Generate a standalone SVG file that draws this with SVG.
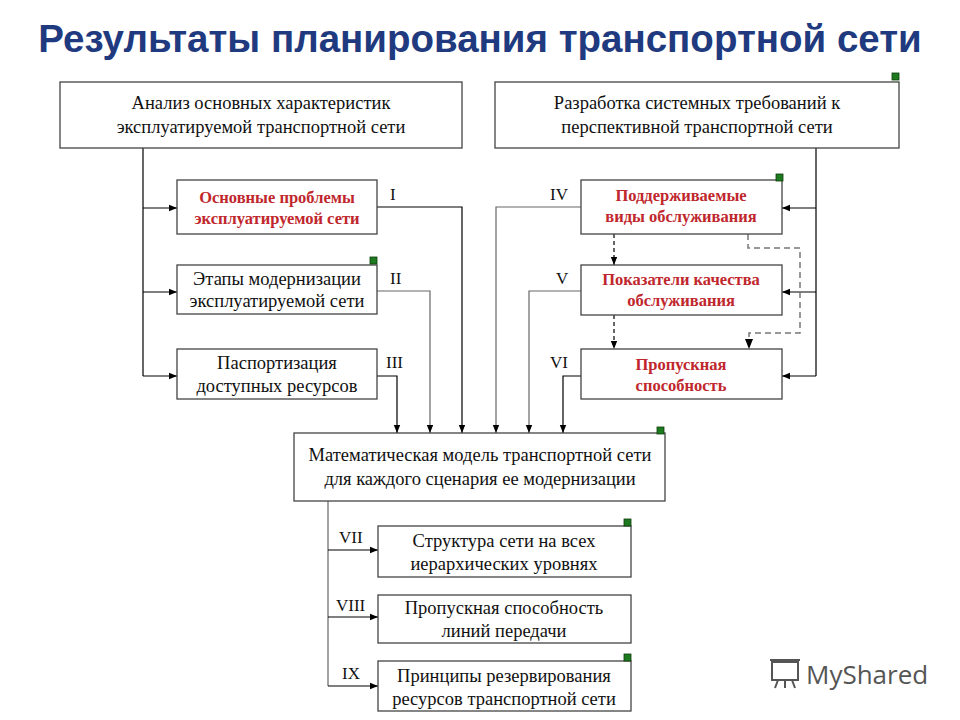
<svg xmlns="http://www.w3.org/2000/svg" width="960" height="720" viewBox="0 0 960 720">
<defs>
<marker id="ah" viewBox="0 0 10 10" refX="10" refY="5" markerWidth="7" markerHeight="7" orient="auto"><path d="M0,1 L10,5 L0,9 z" fill="#000"/></marker>
<style>
.b{fill:#fff;stroke:#444;stroke-width:1.3}
.t{font-family:"Liberation Serif",serif;font-size:18.5px;fill:#111;text-anchor:middle}
.r{font-family:"Liberation Serif",serif;font-size:16.5px;font-weight:bold;fill:#c0272d;text-anchor:middle}
.l{font-family:"Liberation Serif",serif;font-size:17px;fill:#111}
.c{fill:none;stroke:#000;stroke-width:1.2}
.g{fill:none;stroke:#666;stroke-width:1.2}
.d{fill:none;stroke:#000;stroke-width:1.2;stroke-dasharray:4,3}
.dg{fill:none;stroke:#777;stroke-width:1.5;stroke-dasharray:6,4}
.sq{fill:#1e7a1e;stroke:#0b3d0b;stroke-width:0.8}
</style>
</defs>
<rect width="960" height="720" fill="#fff"/>
<text x="480" y="52" font-family="Liberation Sans,sans-serif" font-size="38.5" font-weight="bold" fill="#1f3a7e" text-anchor="middle">Результаты планирования транспортной сети</text>
<g id="connectors">
<path class="c" d="M143,148 V376"/>
<path class="c" d="M143,208 H177" marker-end="url(#ah)"/>
<path class="c" d="M143,292 H177" marker-end="url(#ah)"/>
<path class="c" d="M143,376 H177" marker-end="url(#ah)"/>
<path class="c" d="M377,207 H462 V433" marker-end="url(#ah)"/>
<path class="g" d="M377,291 H430 V433" marker-end="url(#ah)"/>
<path class="c" d="M377,376 H397 V433" marker-end="url(#ah)"/>
<path class="c" d="M816,148 V376"/>
<path class="c" d="M816,208 H782" marker-end="url(#ah)"/>
<path class="c" d="M816,292 H782" marker-end="url(#ah)"/>
<path class="c" d="M816,376 H782" marker-end="url(#ah)"/>
<path class="g" d="M581,207 H496 V433" marker-end="url(#ah)"/>
<path class="g" d="M581,291 H529 V433" marker-end="url(#ah)"/>
<path class="c" d="M581,376 H563 V433" marker-end="url(#ah)"/>
<path class="d" d="M614,234 V265" marker-end="url(#ah)"/>
<path class="d" d="M614,315 V349" marker-end="url(#ah)"/>
<path class="dg" d="M748,234 V248 H800 V333 H749 V349" marker-end="url(#ah)"/>
<path class="g" d="M328,501 V686"/>
<path class="c" d="M328,550 H378" marker-end="url(#ah)"/>
<path class="c" d="M328,617 H378" marker-end="url(#ah)"/>
<path class="c" d="M328,686 H378" marker-end="url(#ah)"/>
</g>
<g id="nA"><rect class="b" x="60" y="82" width="402" height="66"/><text class="t" x="261" y="109">Анализ основных характеристик</text><text class="t" x="261" y="133">эксплуатируемой транспортной сети</text></g>
<g id="nB"><rect class="b" x="495" y="82" width="404" height="66"/><rect class="sq" x="892" y="73" width="7" height="7"/><text class="t" x="697" y="109">Разработка системных требований к</text><text class="t" x="697" y="133">перспективной транспортной сети</text></g>
<g id="n1"><rect class="b" x="177" y="180" width="200" height="54"/><text class="r" x="277" y="203">Основные проблемы</text><text class="r" x="277" y="224">эксплуатируемой сети</text><text class="l" x="390" y="200">I</text></g>
<g id="n2"><rect class="b" x="177" y="265" width="200" height="49"/><rect class="sq" x="370" y="257" width="7" height="7"/><text class="t" x="277" y="285">Этапы модернизации</text><text class="t" x="277" y="307">эксплуатируемой сети</text><text class="l" x="390" y="284">II</text></g>
<g id="n3"><rect class="b" x="177" y="349" width="200" height="50"/><text class="t" x="277" y="369">Паспортизация</text><text class="t" x="277" y="392">доступных ресурсов</text><text class="l" x="386" y="368">III</text></g>
<g id="n4"><rect class="b" x="581" y="180" width="201" height="54"/><rect class="sq" x="776" y="174" width="7" height="7"/><text class="r" x="681" y="201">Поддерживаемые</text><text class="r" x="681" y="222">виды обслуживания</text><text class="l" x="550" y="200">IV</text></g>
<g id="n5"><rect class="b" x="581" y="265" width="201" height="50"/><text class="r" x="681" y="285">Показатели качества</text><text class="r" x="681" y="306">обслуживания</text><text class="l" x="556" y="284">V</text></g>
<g id="n6"><rect class="b" x="581" y="349" width="201" height="50"/><text class="r" x="681" y="370">Пропускная</text><text class="r" x="681" y="391">способность</text><text class="l" x="550" y="368">VI</text></g>
<g id="nM"><rect class="b" x="294" y="433" width="371" height="68"/><rect class="sq" x="657" y="427" width="7" height="7"/><text class="t" x="480" y="461">Математическая модель транспортной сети</text><text class="t" x="480" y="485">для каждого сценария ее модернизации</text></g>
<g id="n7"><rect class="b" x="378" y="526" width="253" height="51"/><rect class="sq" x="624" y="519" width="7" height="7"/><text class="t" x="504" y="547">Структура сети на всех</text><text class="t" x="504" y="570">иерархических уровнях</text><text class="l" x="339" y="543">VII</text></g>
<g id="n8"><rect class="b" x="378" y="595" width="253" height="48"/><text class="t" x="504" y="614">Пропускная способность</text><text class="t" x="504" y="637">линий передачи</text><text class="l" x="336" y="611">VIII</text></g>
<g id="n9"><rect class="b" x="378" y="661" width="253" height="50"/><rect class="sq" x="624" y="654" width="7" height="7"/><text class="t" x="504" y="682">Принципы резервирования</text><text class="t" x="504" y="705">ресурсов транспортной сети</text><text class="l" x="342" y="679">IX</text></g>
<g id="watermark" fill="none" stroke="#555" stroke-width="2"><rect x="772" y="662" width="26" height="18"/><path d="M770,660 H800 M778,680 l-3,8 M785,680 v8 M792,680 l3,8"/></g>
<text x="806" y="684" font-family="Open Sans,sans-serif" font-size="26" fill="#555">MyShared</text>
</svg>
